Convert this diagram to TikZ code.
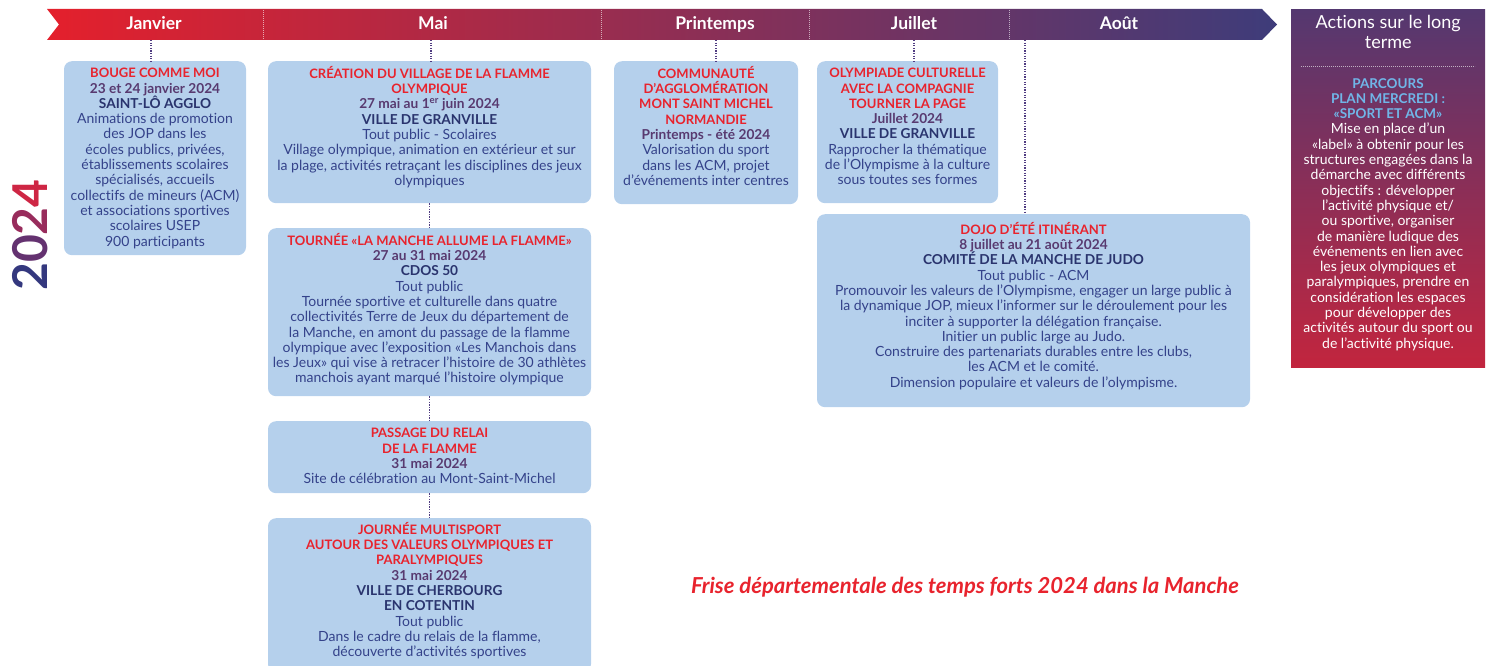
\documentclass[tikz,border=0pt]{standalone}
\usepackage{fontspec}
\setmainfont{Lato}[Ligatures={TeX,NoCommon,NoContextual},RawFeature={-dlig}]

\definecolor{boxblue}{RGB}{181,208,236}
\definecolor{titlered}{RGB}{232,35,45}
\definecolor{datepurple}{RGB}{88,58,112}
\definecolor{placeblue}{RGB}{42,52,110}
\definecolor{bodyblue}{RGB}{52,66,138}
\definecolor{linkpurple}{RGB}{80,60,130}
\definecolor{bannerred}{RGB}{228,32,44}
\definecolor{bannermid}{RGB}{158,40,78}
\definecolor{bannerblue}{RGB}{62,60,122}
\definecolor{paneltop}{RGB}{84,56,112}
\definecolor{panelbottom}{RGB}{194,37,62}
\definecolor{lightblue}{RGB}{112,182,232}
\definecolor{yearA}{RGB}{52,56,126}
\definecolor{yearB}{RGB}{100,50,112}
\definecolor{yearC}{RGB}{152,44,92}
\definecolor{yearD}{RGB}{206,38,68}

\newcommand{\evtitle}[1]{{\fontsize{13}{15.3}\selectfont\bfseries\color{titlered}#1}}
\newcommand{\evdate}[1]{{\fontsize{13.7}{15.3}\selectfont\bfseries\color{datepurple}#1}}
\newcommand{\evplace}[1]{{\fontsize{13.7}{15.3}\selectfont\bfseries\color{placeblue}#1}}
\newcommand{\ltitle}[1]{{\fontsize{13.5}{15.3}\selectfont\bfseries\color{lightblue}#1}}

\begin{document}
\begin{tikzpicture}[x=1pt,y=-1pt,
        box/.style={fill=boxblue,rounded corners=8pt,anchor=north,inner sep=0pt},
        txt/.style={anchor=north,align=center,inner sep=0pt,text=bodyblue,font=\fontsize{14}{15.3}\selectfont},
        month/.style={anchor=base,text=white,font=\bfseries\fontsize{17.5}{19}\selectfont},
        link/.style={draw=linkpurple,line width=1.3pt,dash pattern=on 1.3pt off 1.3pt},
        sep/.style={draw=white,draw opacity=0.6,line width=0.8pt,dash pattern=on 0.8pt off 1.2pt}
    ]
        \useasboundingbox (0,0) rectangle (1491,666);

        % Draw the banner
        \shade[left color=bannerred,middle color=bannermid,right color=bannerblue]
            (47,9) -- (1262,9) -- (1277,24.5) -- (1262,40) -- (47,40) -- (59,24.5) -- cycle;
        \foreach \x in {263,601,809,1009}
            \draw[sep] (\x,10) -- (\x,39);

        % Define the month labels
        \node[month] (jan) at (154,29.5) {Janvier};
        \node[month] (mai) at (433,29.5) {Mai};
        \node[month] (prin) at (715,29.5) {Printemps};
        \node[month] (juil) at (914,29.5) {Juillet};
        \node[month] (aout) at (1119,29.5) {Août};

        \coordinate (t-jan) at (151,40);
        \coordinate (t-mai) at (431,40);
        \coordinate (t-prin) at (716,40);
        \coordinate (t-juil) at (914,40);
        \coordinate (t-aout) at (1025,40);

        % Define the boxes
        \node[box,minimum width=182pt,minimum height=194pt] (bouge) at (155,61) {};
        \node[txt] (bouge-txt) at ([yshift=-7pt]bouge.north) {\evtitle{BOUGE COMME MOI}\\
            \evdate{23 et 24 janvier 2024}\\ \evplace{SAINT-LÔ AGGLO}\\
            Animations de promotion\\ des JOP dans les\\ écoles publics, privées,\\
            établissements scolaires\\ spécialisés, accueils\\ collectifs de mineurs (ACM)\\
            et associations sportives\\ scolaires USEP\\ 900 participants};

        \node[box,minimum width=323pt,minimum height=142pt] (creation) at (429.5,61) {};
        \node[txt] (creation-txt) at ([yshift=-5pt]creation.north) {\evtitle{CRÉATION DU VILLAGE DE LA FLAMME}\\
            \evtitle{OLYMPIQUE}\\ \evdate{27 mai au 1\textsuperscript{er} juin 2024}\\
            \evplace{VILLE DE GRANVILLE}\\ Tout public - Scolaires\\
            Village olympique, animation en extérieur et sur\\
            la plage, activités retraçant les disciplines des jeux\\ olympiques};

        \node[box,minimum width=323pt,minimum height=168pt] (tournee) at (429.5,228) {};
        \node[txt] (tournee-txt) at ([yshift=-5pt]tournee.north) {\evtitle{TOURNÉE «LA MANCHE ALLUME LA FLAMME»}\\
            \evdate{27 au 31 mai 2024}\\ \evplace{CDOS 50}\\ Tout public\\
            Tournée sportive et culturelle dans quatre\\
            collectivités Terre de Jeux du département de\\
            la Manche, en amont du passage de la flamme\\
            olympique avec l’exposition «Les Manchois dans\\
            les Jeux» qui vise à retracer l’histoire de 30 athlètes\\
            manchois ayant marqué l’histoire olympique};

        \node[box,minimum width=323pt,minimum height=72pt] (passage) at (429.5,421) {};
        \node[txt] (passage-txt) at ([yshift=-7pt]passage.north) {\evtitle{PASSAGE DU RELAI}\\
            \evtitle{DE LA FLAMME}\\ \evdate{31 mai 2024}\\
            Site de célébration au Mont-Saint-Michel};

        \node[box,minimum width=323pt,minimum height=154pt] (journee) at (429.5,518) {};
        \node[txt] (journee-txt) at ([yshift=-4pt]journee.north) {\evtitle{JOURNÉE MULTISPORT}\\
            \evtitle{AUTOUR DES VALEURS OLYMPIQUES ET}\\ \evtitle{PARALYMPIQUES}\\
            \evdate{31 mai 2024}\\ \evplace{VILLE DE CHERBOURG}\\ \evplace{EN COTENTIN}\\
            Tout public\\ Dans le cadre du relais de la flamme,\\
            découverte d’activités sportives};

        \node[box,minimum width=184pt,minimum height=143pt] (communaute) at (706,61) {};
        \node[txt] (communaute-txt) at ([yshift=-5pt]communaute.north) {\evtitle{COMMUNAUTÉ}\\
            \evtitle{D’AGGLOMÉRATION}\\ \evtitle{MONT SAINT MICHEL}\\ \evtitle{NORMANDIE}\\
            \evdate{Printemps - été 2024}\\ Valorisation du sport\\
            dans les ACM, projet\\ d’événements inter centres};

        \node[box,minimum width=181pt,minimum height=142pt] (olympiade) at (907.5,61) {};
        \node[txt] (olympiade-txt) at ([yshift=-7pt]olympiade.north) {\evtitle{OLYMPIADE CULTURELLE}\\
            \evtitle{AVEC LA COMPAGNIE}\\ \evtitle{TOURNER LA PAGE}\\
            \evdate{Juillet 2024}\\ \evplace{VILLE DE GRANVILLE}\\
            Rapprocher la thématique\\ de l’Olympisme à la culture\\ sous toutes ses formes};

        \node[box,minimum width=433pt,minimum height=193pt] (dojo) at (1033.5,214) {};
        \node[txt] (dojo-txt) at ([yshift=-8pt]dojo.north) {\evtitle{DOJO D’ÉTÉ ITINÉRANT}\\
            \evdate{8 juillet au 21 août 2024}\\ \evplace{COMITÉ DE LA MANCHE DE JUDO}\\
            Tout public - ACM\\
            Promouvoir les valeurs de l’Olympisme, engager un large public à\\
            la dynamique JOP, mieux l’informer sur le déroulement pour les\\
            inciter à supporter la délégation française.\\
            Initier un public large au Judo.\\
            Construire des partenariats durables entre les clubs,\\
            les ACM et le comité.\\
            Dimension populaire et valeurs de l’olympisme.};

        % Draw the dotted links
        \draw[link] (t-jan) -- (t-jan |- bouge.north);
        \draw[link] (t-mai) -- (t-mai |- creation.north);
        \draw[link] (creation) -- (tournee);
        \draw[link] (tournee) -- (passage);
        \draw[link] (passage) -- (journee);
        \draw[link] (t-prin) -- (t-prin |- communaute.north);
        \draw[link] (t-juil) -- (t-juil |- olympiade.north);
        \draw[link] (t-aout) -- (t-aout |- dojo.north);

        % Long term panel
        \node[anchor=north west,minimum width=194pt,minimum height=358pt,inner sep=0pt,
            top color=paneltop,bottom color=panelbottom] (longterme) at (1291,9) {};
        \node[anchor=north,align=center,inner sep=0pt,text=white,font=\fontsize{18}{20}\selectfont]
            (lt-head) at ([yshift=-6pt]longterme.north) {Actions sur le long\\ terme};
        \draw[sep] (1301,66) -- (1475,66);
        \node[txt,text=white] (lt-body) at (1388,78) {\ltitle{PARCOURS}\\
            \ltitle{PLAN MERCREDI :}\\ \ltitle{«SPORT ET ACM»}\\
            Mise en place d’un\\ «label» à obtenir pour les\\ structures engagées dans la\\
            démarche avec différents\\ objectifs : développer\\ l’activité physique et/\\
            ou sportive, organiser\\ de manière ludique des\\ événements en lien avec\\
            les jeux olympiques et\\ paralympiques, prendre en\\ considération les espaces\\
            pour développer des\\ activités autour du sport ou\\ de l’activité physique.};

        % Year and caption
        \node[rotate=90,font=\bfseries\fontsize{48}{50}\selectfont] (year) at (30,235)
            {\textcolor{yearA}{2}\textcolor{yearB}{0}\textcolor{yearC}{2}\textcolor{yearD}{4}};
        \node[text=titlered,font=\bfseries\itshape\fontsize{22}{24}\selectfont] (caption) at (965,587)
            {Frise départementale des temps forts 2024 dans la Manche};
    \end{tikzpicture}
\end{document}
